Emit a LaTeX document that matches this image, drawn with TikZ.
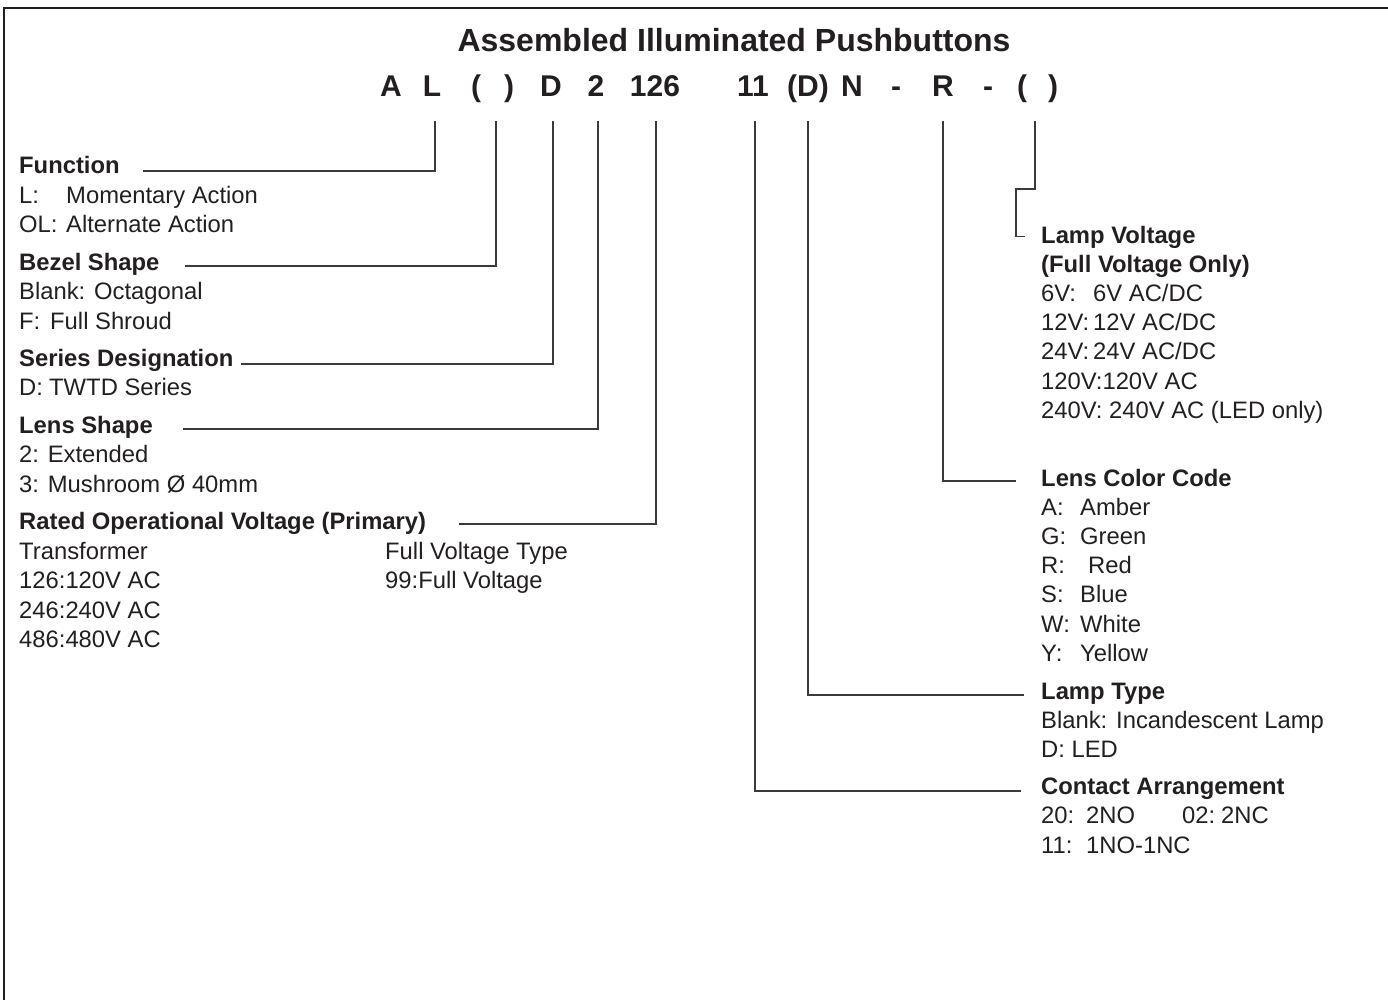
\documentclass[tikz,border=0pt]{standalone}
\usepackage{fontspec}
\setmainfont{Liberation Sans}
\definecolor{ink}{HTML}{231F20}
\definecolor{wirec}{HTML}{3A3A3A}
\tikzset{
  body/.style={anchor=base west, inner sep=0pt, text=ink, font=\fontsize{23.8}{28}\selectfont},
  head/.style={anchor=base west, inner sep=0pt, text=ink, font=\fontsize{23.8}{28}\selectfont\bfseries},
  codechar/.style={anchor=base, inner sep=0pt, text=ink, font=\fontsize{30}{36}\selectfont\bfseries},
  titletext/.style={anchor=base, inner sep=0pt, text=ink, font=\fontsize{32}{38}\selectfont\bfseries},
  wire/.style={draw=wirec, line width=1.3pt},
  frame/.style={draw=ink, line width=2.4pt}
}
\begin{document}
\begin{tikzpicture}[x=1pt,y=-1pt]
\useasboundingbox (0,0) rectangle (1388,1000);
% frame
\draw[frame] (4,1000) -- (4,8) -- (1388,8);

% title and code
\node[titletext] (title) at (734,52) {Assembled Illuminated Pushbuttons};
\node[codechar] (cA) at (391,97) {A};
\node[codechar] (cL) at (432,97) {L};
\node[codechar] (cP1) at (476,97) {(};
\node[codechar] (cP2) at (509,97) {)};
\node[codechar] (cD) at (551,97) {D};
\node[codechar] (c2) at (596,97) {2};
\node[codechar] (c126) at (655,97) {126};
\node[codechar] (c11) at (753,97) {11};
\node[codechar] (cDD) at (808,97) {(D)};
\node[codechar] (cN) at (852,97) {N};
\node[codechar] (cm1) at (896,97) {-};
\node[codechar] (cR) at (943,97) {R};
\node[codechar] (cm2) at (988,97) {-};
\node[codechar] (cP3) at (1022,97) {(};
\node[codechar] (cP4) at (1053,97) {)};

% connector tops
\coordinate (tL) at (435,121);
\coordinate (tB) at (496,121);
\coordinate (tS) at (553,121);
\coordinate (tLS) at (598,121);
\coordinate (tV) at (656,121);
\coordinate (tC) at (755,121);
\coordinate (tLT) at (808,121);
\coordinate (tLC) at (943,121);
\coordinate (tLV) at (1035,121);
% connector ends
\coordinate (eFunc) at (143,171);
\coordinate (eBez) at (185,266);
\coordinate (eSer) at (241,364);
\coordinate (eLens) at (183,429);
\coordinate (eRated) at (459,524);
\coordinate (eCon) at (1021,791);
\coordinate (eLT) at (1024,695);
\coordinate (eLC) at (1016,481);
\coordinate (kLV) at (1016,189);
\coordinate (eLV) at (1025,236.5);

\draw[wire] (tL) |- (eFunc);
\draw[wire] (tB) |- (eBez);
\draw[wire] (tS) |- (eSer);
\draw[wire] (tLS) |- (eLens);
\draw[wire] (tV) |- (eRated);
\draw[wire] (tC) |- (eCon);
\draw[wire] (tLT) |- (eLT);
\draw[wire] (tLC) |- (eLC);
\draw[wire] (tLV) |- (kLV) |- (eLV);

% left column
\node[head] (hFunc) at (19,174) {Function};
\node[body] (fL) at (19,203.5) {L:};
\node[body] (fLv) at (66,203.5) {Momentary Action};
\node[body] (fOL) at (19,233) {OL:};
\node[body] (fOLv) at (66,233) {Alternate Action};
\node[head] (hBez) at (19,270) {Bezel Shape};
\node[body] (bBl) at (19,299.5) {Blank: Octagonal};
\node[body] (bF) at (19,329) {F:};
\node[body] (bFv) at (50,329) {Full Shroud};
\node[head] (hSer) at (19,366) {Series Designation};
\node[body] (sD) at (19,395.5) {D:};
\node[body] (sDv) at (49,395.5) {TWTD Series};
\node[head] (hLens) at (19,433) {Lens Shape};
\node[body] (l2) at (19,462.5) {2: Extended};
\node[body] (l3) at (19,492) {3: Mushroom Ø 40mm};
\node[head] (hRated) at (19,529.5) {Rated Operational Voltage (Primary)};
\node[body] (rT) at (19,559) {Transformer};
\node[body] (rF) at (385,559) {Full Voltage Type};
\node[body] (r126) at (19,588.5) {126:120V AC};
\node[body] (r99) at (385,588.5) {99:Full Voltage};
\node[body] (r246) at (19,618) {246:240V AC};
\node[body] (r486) at (19,647.5) {486:480V AC};

% right column
\node[head] (hLV) at (1041,243.3) {Lamp Voltage};
\node[head] (hLV2) at (1041,272.7) {(Full Voltage Only)};
\node[body] (v6) at (1041,301.7) {6V:};
\node[body] (v6v) at (1093,301.7) {6V AC/DC};
\node[body] (v12) at (1041,330.7) {12V:};
\node[body] (v12v) at (1093,330.7) {12V AC/DC};
\node[body] (v24) at (1041,359.7) {24V:};
\node[body] (v24v) at (1093,359.7) {24V AC/DC};
\node[body] (v120) at (1041,389) {120V:120V AC};
\node[body] (v240) at (1041,418.3) {240V: 240V AC (LED only)};

\node[head] (hLC) at (1041,486.5) {Lens Color Code};
\node[body] (cAk) at (1041,515) {A:};
\node[body] (cAv) at (1080,515) {Amber};
\node[body] (cGk) at (1041,544.3) {G:};
\node[body] (cGv) at (1080,544.3) {Green};
\node[body] (cRk) at (1041,573.5) {R:};
\node[body] (cRv) at (1088,573.5) {Red};
\node[body] (cSk) at (1041,602.7) {S:};
\node[body] (cSv) at (1080,602.7) {Blue};
\node[body] (cWk) at (1041,632) {W:};
\node[body] (cWv) at (1080,632) {White};
\node[body] (cYk) at (1041,661.5) {Y:};
\node[body] (cYv) at (1080,661.5) {Yellow};

\node[head] (hLT) at (1041,699.3) {Lamp Type};
\node[body] (tBl) at (1041,728.5) {Blank: Incandescent Lamp};
\node[body] (tDL) at (1041,757.7) {D: LED};

\node[head] (hCA) at (1041,794.3) {Contact Arrangement};
\node[body] (a20) at (1041,823.5) {20:};
\node[body] (a20v) at (1086,823.5) {2NO};
\node[body] (a02) at (1182,823.5) {02:};
\node[body] (a02v) at (1221,823.5) {2NC};
\node[body] (a11) at (1041,853) {11:};
\node[body] (a11v) at (1086,853) {1NO-1NC};
\end{tikzpicture}
\end{document}
